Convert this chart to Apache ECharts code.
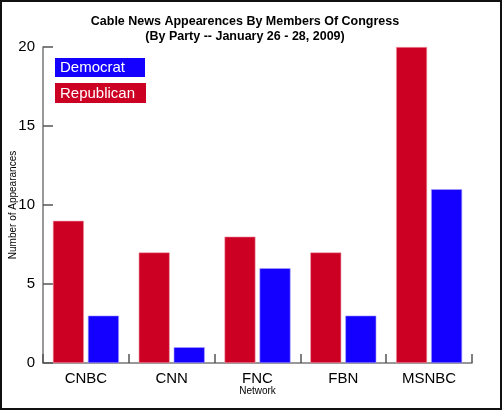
<!DOCTYPE html>
<html>
<head>
<meta charset="utf-8">
<script src="https://cdn.jsdelivr.net/npm/echarts@6/dist/echarts.min.js"></script>
<style>
  html, body { margin: 0; padding: 0; background: #fff; }
  #main { width: 502px; height: 410px; box-sizing: border-box; border: 2px solid #111; }
</style>
</head>
<body>
<div id="main"></div>
<script>
var networks = ['CNBC', 'CNN', 'FNC', 'FBN', 'MSNBC'];
var republican = [9, 7, 8, 7, 20];
var democrat = [3, 1, 6, 3, 11];
var yTicks = [0, 5, 10, 15, 20];

var chart = echarts.init(document.getElementById('main'));
var font = '"Liberation Sans", Arial, sans-serif';

chart.setOption({
  animation: false,
  textStyle: { fontFamily: font },
  title: {
    text: 'Cable News Appearences By Members Of Congress\n(By Party -- January 26 - 28, 2009)',
    left: 238,
    top: 7,
    textAlign: 'center',
    textStyle: { fontSize: 12.5, fontWeight: 'bold', color: '#000', lineHeight: 15, fontFamily: font }
  },
  grid: { left: 41, right: 28, top: 45, bottom: 45, outerBoundsMode: 'none' },
  xAxis: {
    type: 'category',
    data: networks,
    name: 'Network',
    nameLocation: 'middle',
    nameGap: 23,
    nameMoveOverlap: false,
    nameTextStyle: { fontSize: 10, color: '#000' },
    axisLine: { lineStyle: { color: '#777', width: 1.5 } },
    axisTick: { show: true, inside: true, length: 9, lineStyle: { color: '#555', width: 1.5 } },
    axisLabel: { fontSize: 15, color: '#000', margin: 8 }
  },
  yAxis: {
    type: 'value',
    min: yTicks[0],
    max: yTicks[yTicks.length - 1],
    interval: 5,
    name: 'Number of Appearances',
    nameLocation: 'middle',
    nameGap: 25,
    nameMoveOverlap: false,
    nameTextStyle: { fontSize: 10, color: '#000' },
    axisLine: { show: true, lineStyle: { color: '#777', width: 1.5 } },
    axisTick: { show: true, inside: true, length: 10, lineStyle: { color: '#555', width: 1.5 } },
    axisLabel: { fontSize: 15, color: '#000', margin: 8 },
    splitLine: { show: false }
  },
  series: [{
    name: 'Republican',
    type: 'bar',
    data: republican,
    barWidth: 31,
    barGap: '13%',
    itemStyle: { color: '#cc0022', borderColor: '#f0a0b0', borderWidth: 0.6 }
  }, {
    name: 'Democrat',
    type: 'bar',
    data: democrat,
    barWidth: 31,
    barGap: '13%',
    itemStyle: { color: '#1400ff', borderColor: '#a8a0ff', borderWidth: 0.6 }
  }],
  graphic: [{
    type: 'group',
    left: 53,
    top: 56,
    children: [
      { type: 'rect', shape: { x: 0, y: 0, width: 90, height: 19 }, style: { fill: '#1400ff' } },
      { type: 'text', x: 5, y: 10, style: { text: 'Democrat', fill: '#fff', font: '15px ' + font, verticalAlign: 'middle' } },
      { type: 'rect', shape: { x: 0, y: 25, width: 91, height: 20 }, style: { fill: '#cc0022' } },
      { type: 'text', x: 5, y: 36, style: { text: 'Republican', fill: '#fff', font: '15px ' + font, verticalAlign: 'middle' } }
    ]
  }]
});
</script>
</body>
</html>
